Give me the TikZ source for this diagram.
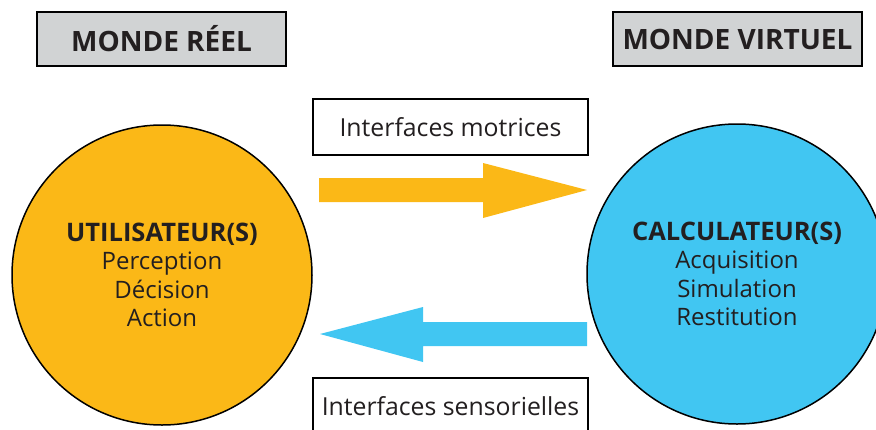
\documentclass[tikz,border=0pt]{standalone}
\usepackage{fontspec}
\setmainfont{Open Sans}
\definecolor{orng}{HTML}{FBB817}
\definecolor{skyb}{HTML}{41C6F2}
\definecolor{boxgray}{HTML}{D1D3D4}
\definecolor{txt}{HTML}{231F20}
\newcommand{\headline}[1]{{\fontsize{25.5}{28.5}\selectfont\bfseries #1}}
\begin{document}
\begin{tikzpicture}[x=1pt,y=-1pt,
  worldbox/.style={draw=black,line width=2pt,fill=boxgray,text=txt,font=\fontsize{28}{30}\selectfont\bfseries,inner sep=0pt},
  labbox/.style={draw=black,line width=2pt,fill=white,text=txt,font=\fontsize{24.8}{28}\selectfont,inner sep=0pt},
  agent/.style={circle,draw=black,line width=1.5pt,text=txt,minimum size=300pt,inner sep=0pt,align=center,font=\fontsize{24}{28.5}\selectfont}]
\useasboundingbox (0,0) rectangle (876,429);
\begin{scope}
\clip (0,0) rectangle (876,429);
% title boxes
\node[worldbox,minimum width=249pt,minimum height=54pt] (reel) at (161.5,39) {MONDE RÉEL};
\node[worldbox,minimum width=249pt,minimum height=54pt] (virt) at (737.5,39) {MONDE VIRTUEL};
% circles
\node[agent,fill=orng] (user) at (162,275) {\headline{UTILISATEUR(S)}\\Perception\\Décision\\Action};
\node[agent,fill=skyb] (calc) at (737,274) {\headline{CALCULATEUR(S)}\\Acquisition\\Simulation\\Restitution};
% label boxes
\node[labbox,minimum width=275pt,minimum height=56pt] (motr) at (450.5,127) {Interfaces motrices};
\node[labbox,minimum width=275pt,minimum height=56pt,anchor=north] (sens) at (450.5,377) {Interfaces sensorielles};
% arrows
\fill[orng] (319,178) -- (483,178) -- (483,163) -- (587,190) -- (483,218) -- (483,202) -- (319,202) -- cycle;
\fill[skyb] (587,322) -- (423,322) -- (423,307) -- (320,334) -- (423,362) -- (423,346) -- (587,346) -- cycle;
\end{scope}
\end{tikzpicture}
\end{document}
